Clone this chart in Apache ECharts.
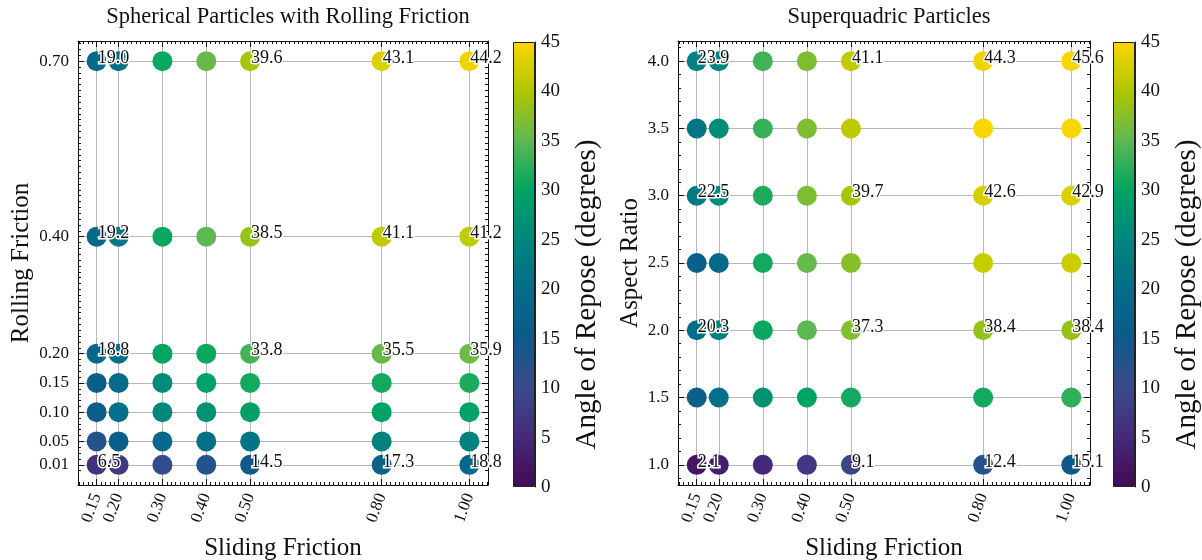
<!DOCTYPE html>
<html>
<head>
<meta charset="utf-8">
<script src="https://cdn.jsdelivr.net/npm/echarts@6/dist/echarts.min.js"></script>
<style>
html,body{margin:0;padding:0;background:#fff;}
#chart{width:1202px;height:560px;}
</style>
</head>
<body>
<div id="chart"></div>
<script>
// ---------------- DATA ----------------
const slidingFriction = [0.15, 0.20, 0.30, 0.40, 0.50, 0.80, 1.00];
const rollingFriction = [0.01, 0.05, 0.10, 0.15, 0.20, 0.40, 0.70];
const aspectRatio = [1.0, 1.5, 2.0, 2.5, 3.0, 3.5, 4.0];

// rows follow rollingFriction, columns follow slidingFriction
const sphericalAngle = [
  [6.5, 7.5, 11.0, 12.5, 14.5, 17.3, 18.8],
  [12.5, 16.0, 19.0, 21.0, 21.5, 24.0, 24.0],
  [16.0, 20.5, 25.5, 27.0, 29.0, 29.5, 29.5],
  [16.5, 20.0, 26.0, 29.5, 31.0, 31.0, 31.5],
  [18.8, 20.5, 30.0, 30.5, 33.8, 35.5, 35.9],
  [19.2, 22.0, 30.5, 35.0, 38.5, 41.1, 41.2],
  [19.0, 21.0, 30.5, 35.5, 39.6, 43.1, 44.2]
];
// rows follow aspectRatio, columns follow slidingFriction
const superquadricAngle = [
  [2.1, 3.5, 5.0, 7.5, 9.1, 12.4, 15.1],
  [17.0, 20.5, 27.0, 29.5, 31.0, 31.0, 32.5],
  [20.3, 24.0, 30.5, 35.0, 37.3, 38.4, 38.4],
  [17.0, 19.5, 31.0, 35.5, 37.5, 41.5, 42.0],
  [22.5, 26.0, 31.5, 37.0, 39.7, 42.6, 42.9],
  [22.0, 26.5, 33.0, 37.0, 41.0, 45.0, 45.0],
  [23.9, 25.0, 33.5, 37.0, 41.1, 44.3, 45.6]
];
// annotated points
const sphericalLabelRows = [0.01, 0.20, 0.40, 0.70];
const superquadricLabelRows = [1.0, 2.0, 3.0, 4.0];
const labelCols = [0.15, 0.50, 0.80, 1.00];

// colour bar
const colorbarTicks = [0, 5, 10, 15, 20, 25, 30, 35, 40, 45];
const cmapColors = ['#420a55', '#46287a', '#3b4a8b', '#0d5a8a', '#046c8a',
                    '#00867e', '#00a562', '#5db852', '#aec700', '#fad600'];

const titles = ['Spherical Particles with Rolling Friction', 'Superquadric Particles'];
const xName = 'Sliding Friction';
const yNames = ['Rolling Friction', 'Aspect Ratio'];
const cbName = 'Angle of Repose (degrees)';

// ---------------- BUILD ----------------
const FONT = '"Liberation Serif", "DejaVu Serif", serif';
const CMIN = 0, CMAX = 45;

function steps(a, b, s) {
  const out = [];
  const n = Math.round((b - a) / s);
  for (let i = 0; i <= n; i++) out.push(+(a + i * s).toFixed(4));
  return out;
}

function buildData(rows, matrix, labelRows) {
  const data = [];
  rows.forEach((r, i) => {
    slidingFriction.forEach((c, j) => {
      const v = matrix[i][j];
      const item = { value: [c, r, v] };
      if (labelRows.includes(r) && labelCols.includes(c)) item.label = { show: true };
      data.push(item);
    });
  });
  return data;
}

const grids = [
  { left: 78, top: 41, width: 410, height: 444, outerBoundsMode: 'none', containLabel: false },
  { left: 678, top: 41, width: 412, height: 444, outerBoundsMode: 'none', containLabel: false },
  { left: 513, top: 42, width: 22, height: 445, outerBoundsMode: 'none', containLabel: false },
  { left: 1113, top: 42, width: 22, height: 445, outerBoundsMode: 'none', containLabel: false }
];

const axisLineStyle = { show: true, onZero: false, lineStyle: { color: '#111', width: 1 } };

function xAxesFor(grid, min, max, majors, minors) {
  const base = { type: 'value', gridIndex: grid, min: min, max: max };
  return [
    Object.assign({}, base, {
      position: 'bottom', axisLine: axisLineStyle,
      name: xName, nameLocation: 'middle', nameGap: 51,
      nameTextStyle: { fontFamily: FONT, fontSize: 25, color: '#111' },
      axisTick: { show: true, inside: true, length: 6, customValues: majors, lineStyle: { color: '#111' } },
      axisLabel: { show: true, customValues: majors, rotate: 70, margin: 9, fontFamily: FONT, fontSize: 17, color: '#111',
                   formatter: v => v.toFixed(2) },
      splitLine: { show: true, lineStyle: { color: '#b8b8b8', width: 1 } }
    }),
    Object.assign({}, base, {
      position: 'bottom', axisLine: { show: false, onZero: false },
      axisTick: { show: true, inside: true, length: 3, customValues: minors, lineStyle: { color: '#111' } },
      axisLabel: { show: false }, splitLine: { show: false }
    }),
    Object.assign({}, base, {
      position: 'top', axisLine: axisLineStyle,
      axisTick: { show: true, inside: true, length: 6, customValues: majors, lineStyle: { color: '#111' } },
      axisLabel: { show: false }, splitLine: { show: false }
    }),
    Object.assign({}, base, {
      position: 'top', axisLine: { show: false, onZero: false },
      axisTick: { show: true, inside: true, length: 3, customValues: minors, lineStyle: { color: '#111' } },
      axisLabel: { show: false }, splitLine: { show: false }
    })
  ];
}

function yAxesFor(grid, min, max, majors, minors, name, digits, gap) {
  const base = { type: 'value', gridIndex: grid, min: min, max: max };
  return [
    Object.assign({}, base, {
      position: 'left', axisLine: axisLineStyle,
      name: name, nameLocation: 'middle', nameGap: gap, nameRotate: 90,
      nameTextStyle: { fontFamily: FONT, fontSize: 25, color: '#111' },
      axisTick: { show: true, inside: true, length: 6, customValues: majors, lineStyle: { color: '#111' } },
      axisLabel: { show: true, customValues: majors, margin: 9, fontFamily: FONT, fontSize: 17, color: '#111',
                   formatter: v => v.toFixed(digits) },
      splitLine: { show: true, lineStyle: { color: '#b8b8b8', width: 1 } }
    }),
    Object.assign({}, base, {
      position: 'left', axisLine: { show: false, onZero: false },
      axisTick: { show: true, inside: true, length: 3, customValues: minors, lineStyle: { color: '#111' } },
      axisLabel: { show: false }, splitLine: { show: false }
    }),
    Object.assign({}, base, {
      position: 'right', axisLine: axisLineStyle,
      axisTick: { show: true, inside: true, length: 6, customValues: majors, lineStyle: { color: '#111' } },
      axisLabel: { show: false }, splitLine: { show: false }
    }),
    Object.assign({}, base, {
      position: 'right', axisLine: { show: false, onZero: false },
      axisTick: { show: true, inside: true, length: 3, customValues: minors, lineStyle: { color: '#111' } },
      axisLabel: { show: false }, splitLine: { show: false }
    })
  ];
}

const xMin = 0.1075, xMax = 1.0425;
const xMinors = steps(0.11, 1.04, 0.01);

const xAxes = []
  .concat(xAxesFor(0, xMin, xMax, slidingFriction, xMinors))
  .concat(xAxesFor(1, xMin, xMax, slidingFriction, xMinors))
  .concat([
    { type: 'category', gridIndex: 2, data: ['cb'], show: false },
    { type: 'category', gridIndex: 3, data: ['cb'], show: false }
  ]);

function cbAxis(grid) {
  return {
    type: 'value', gridIndex: grid, position: 'right', min: CMIN, max: CMAX, interval: 5,
    axisLine: { show: true, onZero: false, lineStyle: { color: '#222', width: 1 } },
    axisTick: { show: false },
    axisLabel: { show: true, margin: 6, fontFamily: FONT, fontSize: 19, color: '#111',
                 customValues: colorbarTicks },
    splitLine: { show: false },
    name: cbName, nameLocation: 'middle', nameGap: 38, nameRotate: 90,
    nameTextStyle: { fontFamily: FONT, fontSize: 29, color: '#111', padding: [0, 60, 0, 0] }
  };
}

const yAxes = []
  .concat(yAxesFor(0, -0.0245, 0.7345, rollingFriction, steps(0.00, 0.73, 0.01), yNames[0], 2, 44))
  .concat(yAxesFor(1, 0.85, 4.15, aspectRatio, steps(0.9, 4.1, 0.1), yNames[1], 1, 35))
  .concat([cbAxis(2), cbAxis(3)]);

const gradient = {
  type: 'linear', x: 0, y: 1, x2: 0, y2: 0,
  colorStops: cmapColors.map((c, i) => ({ offset: i / (cmapColors.length - 1), color: c }))
};

const scatterLabel = {
  show: false, position: ['50%', '50%'], align: 'left', verticalAlign: 'middle', offset: [1, -3],
  fontFamily: FONT, fontSize: 18, color: '#111', textBorderColor: '#fff', textBorderWidth: 3,
  formatter: p => p.value[2].toFixed(1)
};

const option = {
  backgroundColor: '#fff',
  animation: false,
  title: [
    { text: titles[0], left: 283, top: 1, textAlign: 'center',
      textStyle: { fontFamily: FONT, fontSize: 22.5, fontWeight: 'normal', color: '#111' } },
    { text: titles[1], left: 884, top: 1, textAlign: 'center',
      textStyle: { fontFamily: FONT, fontSize: 22.5, fontWeight: 'normal', color: '#111' } }
  ],
  grid: grids,
  xAxis: xAxes,
  yAxis: yAxes,
  visualMap: [{
    type: 'continuous', show: false, min: CMIN, max: CMAX, dimension: 2, seriesIndex: [0, 1],
    inRange: { color: cmapColors }
  }],
  series: [
    { type: 'scatter', xAxisIndex: 0, yAxisIndex: 0, symbolSize: 20,
      itemStyle: { opacity: 1 },
      data: buildData(rollingFriction, sphericalAngle, sphericalLabelRows),
      label: scatterLabel, z: 3 },
    { type: 'scatter', xAxisIndex: 4, yAxisIndex: 4, symbolSize: 20,
      itemStyle: { opacity: 1 },
      data: buildData(aspectRatio, superquadricAngle, superquadricLabelRows),
      label: scatterLabel, z: 3 },
    { type: 'bar', xAxisIndex: 8, yAxisIndex: 8, data: [CMAX], barWidth: '100%', silent: true,
      itemStyle: { color: gradient, borderColor: '#222', borderWidth: 1 } },
    { type: 'bar', xAxisIndex: 9, yAxisIndex: 9, data: [CMAX], barWidth: '100%', silent: true,
      itemStyle: { color: gradient, borderColor: '#222', borderWidth: 1 } }
  ]
};

const chart = echarts.init(document.getElementById('chart'), null, { renderer: 'canvas' });
chart.setOption(option);
</script>
</body>
</html>
